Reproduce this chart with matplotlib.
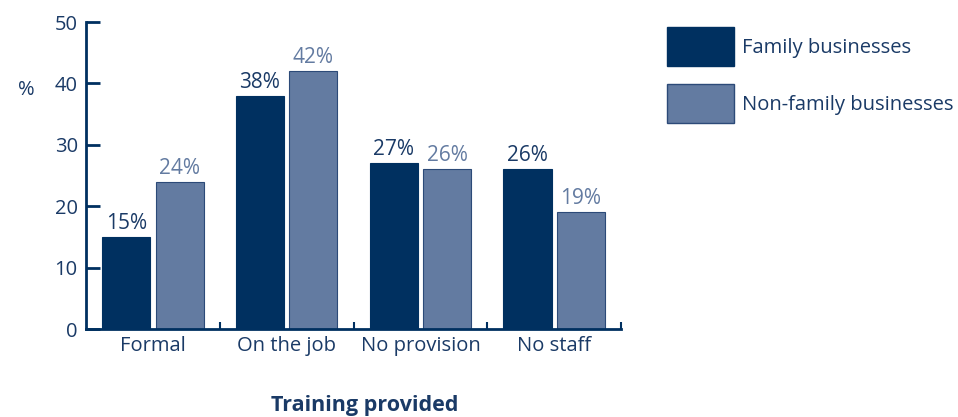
import matplotlib.pyplot as plt
from matplotlib.patches import Patch

categories = ["Formal", "On the job", "No provision", "No staff"]
family = [15, 38, 27, 26]
non_family = [24, 42, 26, 19]
series_names = ["Family businesses", "Non-family businesses"]

dark = "#003060"
light = "#637ba1"
text_col = "#1a3a66"

plt.rcParams['font.family'] = ['Open Sans', 'DejaVu Sans']
fs = 14.5

fig = plt.figure(figsize=(9.58, 4.17), dpi=100)
ax = fig.add_axes([0.0898, 0.211, 0.5585, 0.736])

x = list(range(len(categories)))
w = 0.36
ax.bar([i - 0.2 for i in x], family, width=w, color=dark, edgecolor=dark, linewidth=0.8)
ax.bar([i + 0.2 for i in x], non_family, width=w, color=light, edgecolor="#2c4a78", linewidth=0.8)

for i in x:
    ax.text(i - 0.2, family[i] + 0.5, f"{family[i]}%", ha="center", va="bottom",
            fontsize=15, color=text_col)
    ax.text(i + 0.2, non_family[i] + 0.5, f"{non_family[i]}%", ha="center", va="bottom",
            fontsize=15, color=light)

ax.set_xlim(-0.5, 3.5)
ax.set_ylim(0, 50)
ax.set_yticks(range(0, 51, 10))
ax.set_xticks(x)
ax.set_xticklabels(categories)
ax.set_xticks([0.5, 1.5, 2.5, 3.5], minor=True)

for s in ["top", "right"]:
    ax.spines[s].set_visible(False)
for s in ["left", "bottom"]:
    ax.spines[s].set_color(dark)
    ax.spines[s].set_linewidth(2)

ax.tick_params(axis="y", direction="in", length=10, width=2, color=dark,
               labelsize=fs, labelcolor=text_col, pad=6)
ax.tick_params(axis="x", which="major", length=0, labelsize=fs, labelcolor=text_col, pad=5)
ax.tick_params(axis="x", which="minor", direction="in", length=5, width=1.5, color=dark)

ax.text(-0.127, 0.78, "%", transform=ax.transAxes, fontsize=fs, color=text_col,
        ha="left", va="center")

fig.text(365 / 958, 1 - 405 / 417, "Training provided", ha="center", va="center",
         fontsize=15.5, fontweight="bold", color=text_col)

handles = [Patch(facecolor=dark, edgecolor=dark),
           Patch(facecolor=light, edgecolor="#2c4a78")]
fig.legend(handles, series_names, loc="upper left", bbox_to_anchor=(667 / 958, 1 - 27 / 417),
           frameon=False, fontsize=fs, labelcolor=text_col, handlelength=3.33,
           handleheight=2.6, labelspacing=0.9, handletextpad=0.4, borderpad=0,
           borderaxespad=0)

fig.savefig("out.png", dpi=100)
